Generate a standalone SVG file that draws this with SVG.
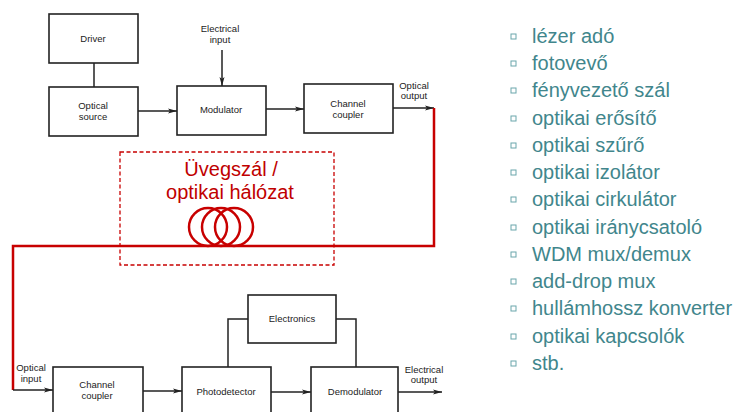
<svg xmlns="http://www.w3.org/2000/svg" width="734" height="412" viewBox="0 0 734 412">
  <style>
    .box { fill: #fff; stroke: #222; stroke-width: 1.6; }
    .wire { fill: none; stroke: #222; stroke-width: 1.5; }
    .lbl { font-family: "Liberation Sans", Arial, sans-serif; font-size: 9.5px; fill: #222; text-anchor: middle; }
    .fiber { fill: none; stroke: #c80000; stroke-width: 2.5; }
    .net { font-family: "Liberation Sans", Arial, sans-serif; font-size: 20px; fill: #c00000; text-anchor: middle; }
    .item { font-family: "Liberation Sans", Arial, sans-serif; font-size: 20px; fill: #41868c; }
    .bullet { fill: none; stroke: #6aa6ab; stroke-width: 1; }
  </style>
  <defs>
    <marker id="arrow" markerWidth="10" markerHeight="6" refX="9" refY="3" orient="auto" markerUnits="userSpaceOnUse">
      <path d="M0,0.5 L9,3 L0,5.5 L2,3 Z" fill="#222"/>
    </marker>
  </defs>
  <rect width="734" height="412" fill="#fff"/>

  <!-- connectors -->
  <g id="connectors">
    <line class="wire" x1="94" y1="63" x2="94" y2="87"/>
    <line class="wire" x1="138" y1="111" x2="177" y2="111" marker-end="url(#arrow)"/>
    <line class="wire" x1="222" y1="50" x2="222" y2="86" marker-end="url(#arrow)"/>
    <line class="wire" x1="266" y1="109" x2="304" y2="109" marker-end="url(#arrow)"/>
    <line class="wire" x1="393" y1="108" x2="434" y2="108" marker-end="url(#arrow)"/>
    <polyline class="fiber" points="434,108 434,246 13,246 13,390"/>
    <line class="wire" x1="13" y1="390" x2="53" y2="390" marker-end="url(#arrow)"/>
    <line class="wire" x1="143" y1="391" x2="182" y2="391" marker-end="url(#arrow)"/>
    <polyline class="wire" points="228,367 228,319 248,319"/>
    <polyline class="wire" points="336,319 356,319 356,367"/>
    <line class="wire" x1="271" y1="392" x2="311" y2="392" marker-end="url(#arrow)"/>
    <line class="wire" x1="398" y1="392" x2="442" y2="392" marker-end="url(#arrow)"/>
  </g>

  <!-- transmitter side -->
  <g id="driver">
    <rect class="box" x="49" y="14" width="89" height="49"/>
    <text class="lbl" x="93" y="42">Driver</text>
  </g>
  <g id="optical-source">
    <rect class="box" x="49" y="87" width="89" height="49"/>
    <text class="lbl" x="93" y="109">Optical</text>
    <text class="lbl" x="93" y="120">source</text>
  </g>
  <g id="electrical-input">
    <text class="lbl" x="220" y="32">Electrical</text>
    <text class="lbl" x="220" y="43">input</text>
  </g>
  <g id="modulator">
    <rect class="box" x="177" y="86" width="89" height="49"/>
    <text class="lbl" x="221" y="113">Modulator</text>
  </g>
  <g id="channel-coupler-tx">
    <rect class="box" x="304" y="84" width="89" height="49"/>
    <text class="lbl" x="348" y="107">Channel</text>
    <text class="lbl" x="348" y="118">coupler</text>
  </g>
  <g id="optical-output">
    <text class="lbl" x="414" y="89">Optical</text>
    <text class="lbl" x="414" y="99">output</text>
  </g>

  <!-- fibre / optical network -->
  <g id="network">
    <rect x="120" y="152" width="214" height="113" fill="none" stroke="#c80000" stroke-width="1.3" stroke-dasharray="4,2.5"/>
    <text class="net" x="231" y="176">Üvegszál /</text>
    <text class="net" x="230" y="199">optikai hálózat</text>
    <circle class="fiber" cx="208" cy="227" r="19"/>
    <circle class="fiber" cx="221" cy="227" r="19"/>
    <circle class="fiber" cx="234" cy="227" r="19"/>
  </g>

  <!-- receiver side -->
  <g id="optical-input">
    <text class="lbl" x="31" y="371">Optical</text>
    <text class="lbl" x="31" y="382">input</text>
  </g>
  <g id="channel-coupler-rx">
    <rect class="box" x="53" y="367" width="90" height="60"/>
    <text class="lbl" x="97" y="388">Channel</text>
    <text class="lbl" x="97" y="399">coupler</text>
  </g>
  <g id="photodetector">
    <rect class="box" x="182" y="367" width="89" height="60"/>
    <text class="lbl" x="226" y="395">Photodetector</text>
  </g>
  <g id="electronics">
    <rect class="box" x="248" y="295" width="88" height="48"/>
    <text class="lbl" x="292" y="322">Electronics</text>
  </g>
  <g id="demodulator">
    <rect class="box" x="311" y="367" width="87" height="60"/>
    <text class="lbl" x="355" y="395">Demodulator</text>
  </g>
  <g id="electrical-output">
    <text class="lbl" x="424" y="373">Electrical</text>
    <text class="lbl" x="424" y="383">output</text>
  </g>

  <!-- component list -->
  <g id="component-list">
    <rect class="bullet" x="511" y="34" width="5" height="5"/>
    <text class="item" x="532" y="43">lézer adó</text>
    <rect class="bullet" x="511" y="61" width="5" height="5"/>
    <text class="item" x="532" y="70">fotovevő</text>
    <rect class="bullet" x="511" y="88" width="5" height="5"/>
    <text class="item" x="532" y="97">fényvezető szál</text>
    <rect class="bullet" x="511" y="116" width="5" height="5"/>
    <text class="item" x="532" y="125">optikai erősítő</text>
    <rect class="bullet" x="511" y="143" width="5" height="5"/>
    <text class="item" x="532" y="152">optikai szűrő</text>
    <rect class="bullet" x="511" y="170" width="5" height="5"/>
    <text class="item" x="532" y="179">optikai izolátor</text>
    <rect class="bullet" x="511" y="197" width="5" height="5"/>
    <text class="item" x="532" y="206">optikai cirkulátor</text>
    <rect class="bullet" x="511" y="225" width="5" height="5"/>
    <text class="item" x="532" y="234">optikai iránycsatoló</text>
    <rect class="bullet" x="511" y="252" width="5" height="5"/>
    <text class="item" x="532" y="261">WDM mux/demux</text>
    <rect class="bullet" x="511" y="279" width="5" height="5"/>
    <text class="item" x="532" y="288">add-drop mux</text>
    <rect class="bullet" x="511" y="306" width="5" height="5"/>
    <text class="item" x="532" y="315">hullámhossz konverter</text>
    <rect class="bullet" x="511" y="334" width="5" height="5"/>
    <text class="item" x="532" y="343">optikai kapcsolók</text>
    <rect class="bullet" x="511" y="361" width="5" height="5"/>
    <text class="item" x="532" y="370">stb.</text>
  </g>
</svg>
